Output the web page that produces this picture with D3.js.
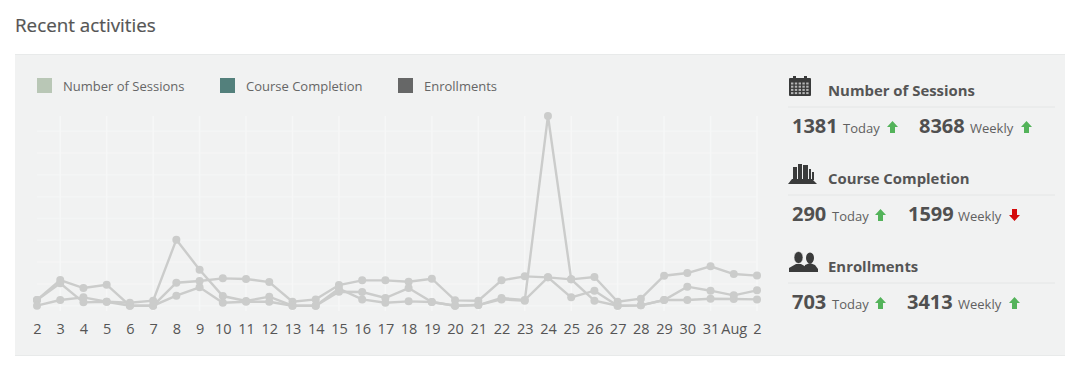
<!DOCTYPE html>
<html><head><meta charset="utf-8">
<script src="https://cdn.jsdelivr.net/npm/d3@7/dist/d3.min.js"></script>
<style>html,body{margin:0;padding:0;background:#fff}svg{display:block}text{font-family:"Open Sans",sans-serif}</style>
</head><body><svg id="c" width="1082" height="374"></svg>
<script>
const dayLabels = ["2","3","4","5","6","7","8","9","10","11","12","13","14","15","16","17","18","19","20","21","22","23","24","25","26","27","28","29","30","31","Aug","2"];
const sessions = [260,1177,810,963,0,0,1055,1131,1254,1223,1086,183,290,948,1162,1162,1101,1238,245,229,1162,1345,1300,1208,1315,183,321,1376,1498,1804,1453,1381];
const completion = [260,1024,153,183,138,229,3027,1651,443,214,413,0,0,780,290,138,199,168,0,30,290,229,8700,1208,229,0,15,260,260,321,306,290];
const enrollments = [0,260,382,183,0,0,459,841,138,183,183,0,0,642,627,352,810,168,0,30,352,260,1300,382,688,0,15,260,872,688,474,703];
const seriesNames = ["Number of Sessions","Course Completion","Enrollments"];
const legendColors = ["#b9c7b6","#53807c","#666767"];
const statToday = [1381,290,703];
const statWeekly = [8368,1599,3413];
const statTodayUp = [true,true,true];
const statWeeklyUp = [true,false,true];
const gridTicks = [0,1000,2000,3000,4000,5000,6000,7000,8000];

const svg = d3.select("#c");
svg.append("text").attr("x",15).attr("y",32).attr("font-size",18.8).attr("fill","#555").attr("stroke","#555").attr("stroke-width",.2).text("Recent activities");
svg.append("rect").attr("x",15).attr("y",54).attr("width",1050).attr("height",302).attr("fill","#e8eaea");
svg.append("rect").attr("x",15).attr("y",55).attr("width",1050).attr("height",300).attr("fill","#f1f2f2");

const legendX = [37,220,398];
seriesNames.forEach((n,i)=>{
  svg.append("rect").attr("x",legendX[i]).attr("y",78).attr("width",15).attr("height",15).attr("fill",legendColors[i]);
  svg.append("text").attr("x",legendX[i]+26).attr("y",91).attr("font-size",13).attr("fill","#666").text(n);
});

const idx = d3.range(dayLabels.length);
const x = d3.scalePoint().domain(idx).range([37,757]);
const y = d3.scaleLinear().domain([0,8700]).range([305.7,116]);

const grid = svg.append("g");
grid.selectAll(".h").data(gridTicks).join("line").attr("x1",37).attr("x2",757)
  .attr("y1",d=>y(d)).attr("y2",d=>y(d)).attr("stroke","#f4f5f5").attr("stroke-width",1.5);
grid.selectAll(".v").data(idx.filter(i=>i%2===1)).join("line").attr("x1",d=>x(d)).attr("x2",d=>x(d))
  .attr("y1",116).attr("y2",311).attr("stroke","#f6f7f7").attr("stroke-width",1.5);

const line = d3.line().x((d,i)=>x(i)).y(d=>y(d));
[sessions,completion,enrollments].forEach(s=>{
  const g = svg.append("g");
  g.append("path").datum(s).attr("d",line).attr("fill","none").attr("stroke","#cbcccb").attr("stroke-width",2.4);
  g.selectAll("circle").data(s).join("circle").attr("cx",(d,i)=>x(i)).attr("cy",d=>y(d)).attr("r",4).attr("fill","#cbcccb");
});

const ax = svg.append("g").attr("transform","translate(0,320)")
  .call(d3.axisBottom(x).tickSize(0).tickPadding(4).tickFormat(i=>dayLabels[i]));
ax.select(".domain").remove();
ax.selectAll("text").attr("font-size",14.5).attr("fill","#555").style("font-family",'"Open Sans",sans-serif');

// Side panel
const dark = "#3a3b3b";
const rowTop = [76,164,252];
const titleBase = [96,184,272];
const ruleY = [107,195,283];
const numBase = [133,221,309];
const layout = [
  {n1:792,t1:843,a1:887,n2:919,t2:970,a2:1021},
  {n1:792,t1:832,a1:875,n2:908,t2:958,a2:1009},
  {n1:792,t1:832,a1:875,n2:907,t2:958,a2:1009}
];
function arrow(px,base,up){
  const top=base-12, w=11, c=px+w/2, col=up?"#53b35a":"#d40b0b";
  const pts = up
    ? [[c,top],[px+w,top+6],[c+2.5,top+6],[c+2.5,top+12],[c-2.5,top+12],[c-2.5,top+6],[px,top+6]]
    : [[c,top+12],[px+w,top+6],[c+2.5,top+6],[c+2.5,top],[c-2.5,top],[c-2.5,top+6],[px,top+6]];
  svg.append("polygon").attr("points",pts.join(" ")).attr("fill",col);
}
seriesNames.forEach((n,i)=>{
  svg.append("text").attr("x",828).attr("y",titleBase[i]).attr("font-size",14.9).attr("font-weight",700).attr("fill","#555").text(n);
  svg.append("line").attr("x1",788).attr("x2",1055).attr("y1",ruleY[i]).attr("y2",ruleY[i]).attr("stroke","#e4e6e6");
  const L = layout[i], b = numBase[i];
  const num=(xp,v)=>svg.append("text").attr("x",xp).attr("y",b).attr("font-size",20).attr("font-weight",700).attr("fill","#505050").text(v);
  const lab=(xp,v)=>svg.append("text").attr("x",xp).attr("y",b).attr("font-size",13).attr("fill","#606060").text(v);
  num(L.n1,statToday[i]); lab(L.t1,"Today"); arrow(L.a1,b,statTodayUp[i]);
  num(L.n2,statWeekly[i]); lab(L.t2,"Weekly"); arrow(L.a2,b,statWeeklyUp[i]);
});

// Icon: calendar
const cal = svg.append("g").attr("transform",`translate(789,${rowTop[0]})`);
cal.append("rect").attr("y",2).attr("width",22).attr("height",18).attr("rx",1).attr("fill",dark);
[4,15].forEach(v=>cal.append("rect").attr("x",v).attr("y",0).attr("width",3).attr("height",5).attr("fill",dark));
d3.range(4).forEach(r=>d3.range(5).forEach(c=>cal.append("rect").attr("x",2+c*3.8).attr("y",6.5+r*3.2).attr("width",2.4).attr("height",2).attr("fill","#b5b6b6")));
// Icon: books
const bk = svg.append("g").attr("transform",`translate(788,${rowTop[1]})`);
bk.append("path").attr("d","M4 15H24L29 20H0Z").attr("fill",dark);
[[5,3,4,14],[10,0,4,16],[15,1,5,15],[21,5,2,11],[24,8,2,8]].forEach(a=>bk.append("rect").attr("x",a[0]).attr("y",a[1]).attr("width",a[2]).attr("height",a[3]).attr("fill",dark));
// Icon: people
const pp = svg.append("g").attr("transform",`translate(789,${rowTop[2]})`);
pp.append("ellipse").attr("cx",21).attr("cy",6).attr("rx",4).attr("ry",5.5).attr("fill",dark);
pp.append("path").attr("d","M15 20L16 13L21 11L26 13L29 17V20Z").attr("fill",dark);
pp.append("ellipse").attr("cx",9.5).attr("cy",5.5).attr("rx",4.5).attr("ry",6).attr("fill",dark).attr("stroke","#f1f2f2").attr("stroke-width",.6);
pp.append("path").attr("d","M0 20V16L7 12H12L19 16V20Z").attr("fill",dark);
</script></body></html>
